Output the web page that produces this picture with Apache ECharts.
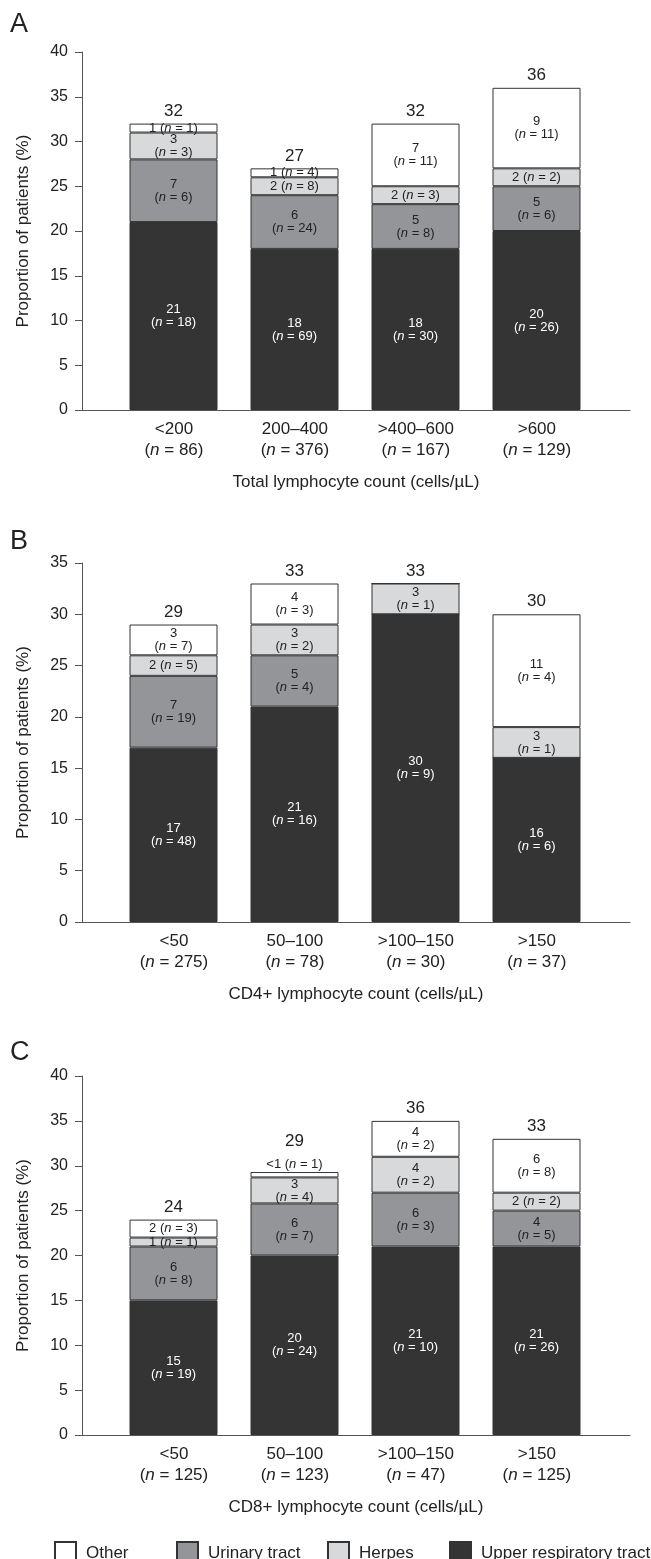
<!DOCTYPE html>
<html>
<head>
<meta charset="utf-8">
<script src="https://cdn.jsdelivr.net/npm/echarts@6/dist/echarts.min.js"></script>
<style>
html,body{margin:0;padding:0;background:#fff;}
#chart{width:651px;height:1559px;}
</style>
</head>
<body>
<div id="chart"></div>
<script>
// ---------- Panel A : total lymphocyte count ----------
const categoriesA = ['<200', '200–400', '>400–600', '>600'];
const groupNA = [86, 376, 167, 129];
const uprA = [21, 18, 18, 20];
const urinA = [7, 6, 5, 5];
const herpA = [3, 2, 2, 2];
const otherA = [1, 1, 7, 9];
const uprNA = [18, 69, 30, 26];
const urinNA = [6, 24, 8, 6];
const herpNA = [3, 8, 3, 2];
const otherNA = [1, 4, 11, 11];
const totalA = [32, 27, 32, 36];

// ---------- Panel B : CD4+ lymphocyte count ----------
const categoriesB = ['<50', '50–100', '>100–150', '>150'];
const groupNB = [275, 78, 30, 37];
const uprB = [17, 21, 30, 16];
const urinB = [7, 5, 0, 0];
const herpB = [2, 3, 3, 3];
const otherB = [3, 4, 0, 11];
const uprNB = [48, 16, 9, 6];
const urinNB = [19, 4, 0, 0];
const herpNB = [5, 2, 1, 1];
const otherNB = [7, 3, 0, 4];
const totalB = [29, 33, 33, 30];

// ---------- Panel C : CD8+ lymphocyte count ----------
const categoriesC = ['<50', '50–100', '>100–150', '>150'];
const groupNC = [125, 123, 47, 125];
const uprC = [15, 20, 21, 21];
const urinC = [6, 5.8, 6, 4];
const herpC = [1, 2.9, 4, 2];
const otherC = [2, 0.6, 4, 6];
const uprNC = [19, 24, 10, 26];
const urinNC = [8, 7, 3, 5];
const herpNC = [1, 4, 2, 2];
const otherNC = [3, 1, 2, 8];
const uprTxtC = ['15', '20', '21', '21'];
const urinTxtC = ['6', '6', '6', '4'];
const herpTxtC = ['1', '3', '4', '2'];
const otherTxtC = ['2', '<1', '4', '6'];
const totalC = [24, 29, 36, 33];

const xTitles = ['Total lymphocyte count (cells/µL)', 'CD4+ lymphocyte count (cells/µL)', 'CD8+ lymphocyte count (cells/µL)'];
const yTitle = 'Proportion of patients (%)';
const panelLetters = ['A', 'B', 'C'];
const legendNames = ['Other', 'Urinary tract', 'Herpes', 'Upper respiratory tract'];

const COLORS = {
  'Upper respiratory tract': '#343434',
  'Urinary tract': '#939598',
  'Herpes': '#d8d9db',
  'Other': '#ffffff'
};
const FONT = 'Liberation Sans, Arial, Helvetica, sans-serif';
const TXT = '#222';

const panels = [
  {cats: categoriesA, n: groupNA, max: 40, total: totalA,
   segs: [
     ['Upper respiratory tract', uprA, uprNA, null],
     ['Urinary tract', urinA, urinNA, null],
     ['Herpes', herpA, herpNA, null],
     ['Other', otherA, otherNA, null]]},
  {cats: categoriesB, n: groupNB, max: 35, total: totalB,
   segs: [
     ['Upper respiratory tract', uprB, uprNB, null],
     ['Urinary tract', urinB, urinNB, null],
     ['Herpes', herpB, herpNB, null],
     ['Other', otherB, otherNB, null]]},
  {cats: categoriesC, n: groupNC, max: 40, total: totalC,
   segs: [
     ['Upper respiratory tract', uprC, uprNC, uprTxtC],
     ['Urinary tract', urinC, urinNC, urinTxtC],
     ['Herpes', herpC, herpNC, herpTxtC],
     ['Other', otherC, otherNC, otherTxtC]]}
];

const gridTops = [52, 563, 1076];
const gridH = [358, 359, 359];
const letterTops = [6, 523, 1034];

const grid = [], xAxis = [], yAxis = [], series = [], title = [];

panels.forEach((p, k) => {
  const ga = 2 * k, gb = 2 * k + 1;
  // axis frame grid (wider, carries the visible axes)
  grid.push({left: 82, right: 21, top: gridTops[k], height: gridH[k]});
  // bar grid (inner, category band area)
  grid.push({left: 113, right: 54, top: gridTops[k], height: gridH[k]});
  title.push({text: panelLetters[k], left: 5, top: letterTops[k],
    textStyle: {fontFamily: FONT, fontSize: 27, fontWeight: 'normal', color: TXT}});

  xAxis.push({
    type: 'value', gridIndex: ga, min: -0.76, max: 3.77,
    splitLine: {show: false},
    axisTick: {show: false},
    axisLine: {show: true, onZero: false, lineStyle: {color: '#555', width: 1}},
    axisLabel: {
      customValues: [0, 1, 2, 3],
      margin: 9, fontFamily: FONT, fontSize: 17, lineHeight: 21, color: TXT,
      formatter: v => {
        const i = Math.round(v);
        return p.cats[i] + '\n({i|n} = ' + p.n[i] + ')';
      },
      rich: {i: {fontFamily: FONT, fontSize: 17, lineHeight: 21, color: TXT, fontStyle: 'italic'}}
    },
    name: xTitles[k], nameLocation: 'middle', nameGap: 64,
    nameTextStyle: {fontFamily: FONT, fontSize: 17, color: TXT}
  });
  yAxis.push({
    type: 'value', gridIndex: ga, min: 0, max: p.max, interval: 5,
    splitLine: {show: false},
    axisLine: {show: true, onZero: false, lineStyle: {color: '#555', width: 1}},
    axisTick: {show: true, length: 7, lineStyle: {color: '#555'}},
    axisLabel: {margin: 14, fontFamily: FONT, fontSize: 16, color: TXT},
    name: yTitle, nameLocation: 'middle', nameRotate: 90, nameGap: 50,
    nameTextStyle: {fontFamily: FONT, fontSize: 17, color: TXT}
  });
  xAxis.push({
    type: 'category', gridIndex: gb, data: p.cats, show: false
  });
  yAxis.push({
    type: 'value', gridIndex: gb, min: 0, max: p.max, interval: 5, show: false,
    splitLine: {show: false}
  });

  p.segs.forEach(([name, vals, ns, txt]) => {
    const dark = name === 'Upper respiratory tract';
    const tc = dark ? '#ffffff' : TXT;
    series.push({
      type: 'bar', name: name, xAxisIndex: gb, yAxisIndex: gb, stack: 'p' + k,
      barWidth: 88,
      itemStyle: {color: COLORS[name], borderColor: '#333', borderWidth: 1},
      label: {
        show: true, position: 'inside', fontFamily: FONT, fontSize: 13, lineHeight: 13, color: tc,
        formatter: q => {
          const i = q.dataIndex;
          const v = vals[i];
          if (!v) return '';
          const t = txt ? txt[i] : String(v);
          return v < 2.5 ? t + ' ({i|n} = ' + ns[i] + ')' : t + '\n({i|n} = ' + ns[i] + ')';
        },
        rich: {i: {fontFamily: FONT, fontSize: 13, lineHeight: 13, color: tc, fontStyle: 'italic'}}
      },
      emphasis: {disabled: true},
      data: vals.map(v => {
        const item = {value: v};
        if (v > 0 && v < 1) item.label = {position: 'top', distance: 1};
        return item;
      })
    });
  });
  // totals on top of each stack
  const otherVals = p.segs[3][1];
  series.push({
    type: 'bar', name: 'total' + k, xAxisIndex: gb, yAxisIndex: gb, stack: 'p' + k,
    barWidth: 88,
    itemStyle: {color: 'rgba(0,0,0,0)', borderWidth: 0},
    label: {show: true, position: 'top', distance: 4, fontFamily: FONT, fontSize: 17, color: TXT,
      formatter: q => String(p.total[q.dataIndex])},
    emphasis: {disabled: true},
    data: p.total.map((t, i) => {
      const item = {value: 0};
      if (otherVals[i] > 0 && otherVals[i] < 1) item.label = {offset: [0, -18]};
      return item;
    })
  });
});

const legendLefts = [49, 171, 322, 444];
const legend = legendNames.map((nm, j) => ({
  data: [nm], left: legendLefts[j], top: 1536, orient: 'horizontal',
  itemWidth: 21, itemHeight: 22, selectedMode: false, icon: 'rect',
  textStyle: {fontFamily: FONT, fontSize: 17, color: TXT, padding: [0, 0, 0, 5]}
}));

const chart = echarts.init(document.getElementById('chart'), null, {renderer: 'canvas'});
chart.setOption({
  animation: false,
  backgroundColor: '#ffffff',
  title: title,
  grid: grid,
  xAxis: xAxis,
  yAxis: yAxis,
  legend: legend,
  series: series
});
</script>
</body>
</html>
